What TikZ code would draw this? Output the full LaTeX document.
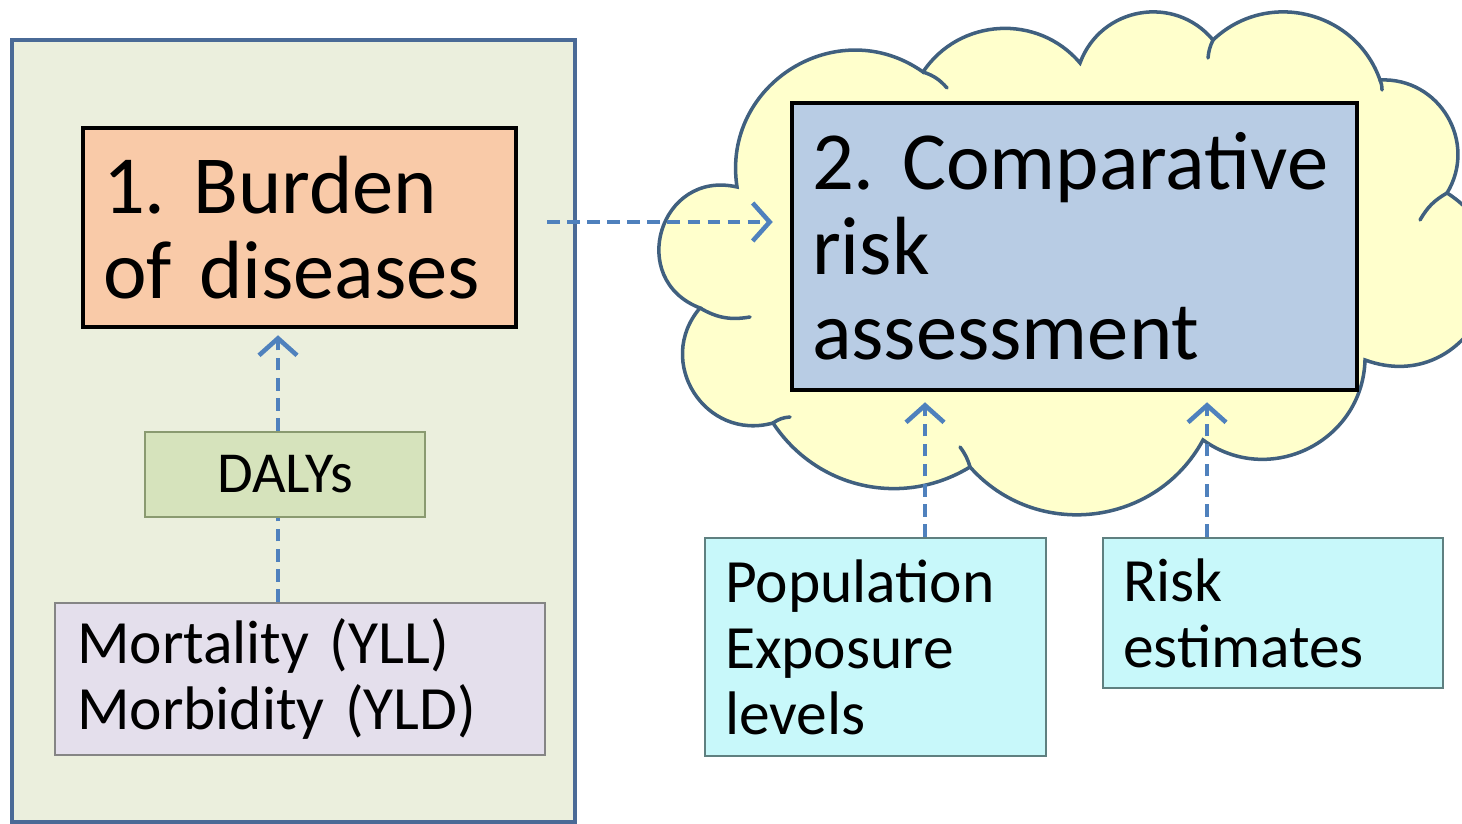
\documentclass[tikz,border=0pt]{standalone}
\usepackage{fontspec}
\setmainfont{Carlito}
\usetikzlibrary{arrows.meta}
\frenchspacing
\hyphenpenalty=10000
\definecolor{panelfill}{HTML}{EBEFDD}
\definecolor{panelline}{HTML}{4A6A96}
\definecolor{burdenfill}{HTML}{F9CAA8}
\definecolor{dalyfill}{HTML}{D6E3BC}
\definecolor{dalyline}{HTML}{8A9A70}
\definecolor{mortfill}{HTML}{E4DFEC}
\definecolor{mortline}{HTML}{858585}
\definecolor{cloudfill}{HTML}{FFFFCC}
\definecolor{cloudline}{HTML}{40607F}
\definecolor{compfill}{HTML}{B8CCE4}
\definecolor{inputfill}{HTML}{C8F8FA}
\definecolor{inputline}{HTML}{5F8080}
\definecolor{pfeil}{HTML}{4F81BD}
\tikzset{
    panel/.style={
           rectangle,
           draw=panelline, fill=panelfill,
           line width=1pt},
    haupt/.style={
           rectangle,
           draw=black, line width=1.3pt,
           inner xsep=0.2cm, inner ysep=0pt,
           align=left,
           font=\fontsize{23.5}{24.2}\selectfont},
    klein/.style={
           rectangle,
           line width=0.8pt,
           inner xsep=0.2cm, inner ysep=0pt,
           align=left,
           font=\fontsize{17.5}{18.8}\selectfont},
    wolke/.style={
           draw=cloudline, fill=cloudfill, line width=1pt},
    wolkenrand/.style={
           draw=cloudline, line width=1pt, line cap=round},
    gestrichelt/.style={
           draw=pfeil, line width=1.3pt,
           dash pattern=on 3.5pt off 2.2pt},
    pfeilspitze/.style={
           -{Straight Barb[length=1.7mm,width=3.8mm]}}
    }
\begin{document}
\begin{tikzpicture}
      \useasboundingbox (0,0) rectangle (14.62,-8.24);
      \clip (0,0) rectangle (14.62,-8.24);
      % linke Seite
      \node[panel, minimum width=5.63cm, minimum height=7.82cm] (0) at (2.935,-4.31) {};
      \node[haupt, fill=burdenfill, text width=3.93cm, minimum width=4.33cm, minimum height=1.99cm] (1) at (2.995,-2.275) {1. Burden\\of diseases};
      \node[klein, draw=dalyline, fill=dalyfill, align=center, font=\fontsize{16.5}{18}\selectfont, minimum width=2.8cm, minimum height=0.85cm] (2) at (2.85,-4.745) {DALYs};
      \node[klein, draw=mortline, fill=mortfill, text width=4.46cm, minimum width=4.9cm, minimum height=1.52cm] (3) at (3.0,-6.79) {Mortality (YLL)\\Morbidity (YLD)};
      % Wolke
      \coordinate (w1) at (7.37,-1.87);
      \coordinate (w2) at (9.23,-0.72);
      \coordinate (w3) at (10.80,-0.63);
      \coordinate (w4) at (12.13,-0.40);
      \coordinate (w5) at (13.80,-0.80);
      \coordinate (w6) at (14.47,-1.93);
      \coordinate (w7) at (13.65,-3.60);
      \coordinate (w8) at (12.03,-4.40);
      \coordinate (w9) at (9.70,-4.67);
      \coordinate (w10) at (7.73,-4.23);
      \coordinate (w11) at (7.00,-3.08);
      \path[wolke] (w11) to[bend left=86,looseness=1.6] (w1)
            to[bend left=67,looseness=1.22] (w2)
            to[bend left=53,looseness=1.06] (w3)
            to[bend left=60,looseness=1.14] (w4)
            to[bend left=57,looseness=1.1] (w5)
            to[bend left=62,looseness=1.16] (w6)
            to[bend left=84,looseness=1.54] (w7)
            to[bend left=62,looseness=1.16] (w8)
            to[bend left=55,looseness=1.08] (w9)
            to[bend left=44,looseness=1.0] (w10)
            to[bend left=73,looseness=1.32] (w11) -- cycle;
      \draw[wolkenrand] (w2) to[bend left=15] (9.47,-0.88);
      \draw[wolkenrand] (w4) to[bend right=10] (12.08,-0.58);
      \draw[wolkenrand] (w5) to[bend left=10] (13.82,-0.90);
      \draw[wolkenrand] (w6) to[bend right=15] (14.20,-2.20);
      \draw[wolkenrand] (w11) to[bend right=20] (7.50,-3.17);
      \draw[wolkenrand] (w10) to[bend left=15] (7.90,-4.17);
      \draw[wolkenrand] (w9) to[bend right=10] (9.60,-4.47);
      % rechte Seite
      \node[haupt, fill=compfill, text width=5.25cm, minimum width=5.65cm, minimum height=2.87cm] (5) at (10.745,-2.465) {2. Comparative\\risk\\assessment};
      \node[klein, draw=inputline, fill=inputfill, text width=3.01cm, minimum width=3.39cm, minimum height=2.18cm] (6) at (8.755,-6.47) {Population\\Exposure\\levels};
      \node[klein, draw=inputline, fill=inputfill, text width=3.0cm, minimum width=3.4cm, minimum height=1.5cm] (7) at (12.73,-6.13) {Risk\\estimates};
      \coordinate (a) at (2.78,-2.22);
      \coordinate (b) at (9.25,0);
      \coordinate (c) at (12.07,0);
      % Verbindungen
      \draw[gestrichelt] (3.north -| a) -- (2.south -| a);
      \draw[gestrichelt,pfeilspitze,shorten >=0.06cm] (2.north -| a) -- (1.south -| a);
      \draw[gestrichelt,pfeilspitze,shorten <=0.29cm,shorten >=0.17cm] (1.east |- a) -- (5.west |- a);
      \draw[gestrichelt,pfeilspitze,shorten >=0.1cm] (6.north -| b) -- (5.south -| b);
      \draw[gestrichelt,pfeilspitze,shorten >=0.1cm] (7.north -| c) -- (5.south -| c);
\end{tikzpicture}
\end{document}
